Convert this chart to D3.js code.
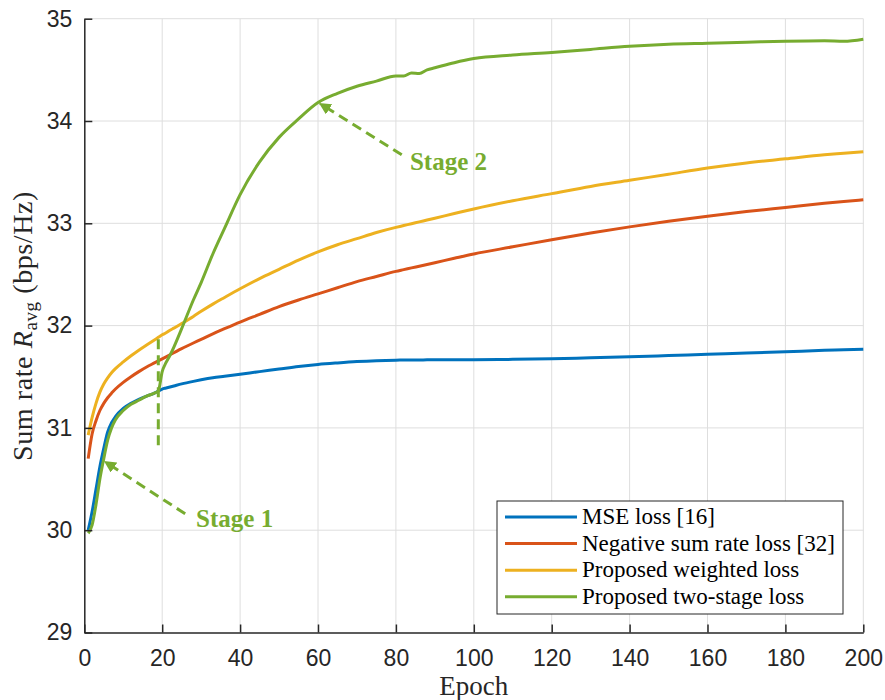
<!DOCTYPE html>
<html>
<head>
<meta charset="utf-8">
<script src="https://cdn.jsdelivr.net/npm/d3@7"></script>
<style>
  body { margin: 0; background: #fff; }
  svg { display: block; }
  .tick text { font-family: "Liberation Sans", Arial, sans-serif; font-size: 22px; fill: #262626; }
  .serif { font-family: "Liberation Serif", "Times New Roman", serif; }
</style>
</head>
<body>
<div id="chart"></div>
<script>
var epochs = [1, 2, 3, 4, 5, 6, 7, 8, 10, 12, 14, 16, 18, 19, 20, 21, 22, 23, 25, 28,
  30, 33, 36, 40, 45, 50, 55, 60, 65, 70, 75, 80, 82, 84, 86, 88, 90, 95, 100, 110,
  120, 130, 140, 150, 160, 170, 180, 190, 195, 200];

var mseLoss = [30.00, 30.18, 30.40, 30.62, 30.80, 30.96, 31.05, 31.11, 31.19, 31.24,
  31.28, 31.31, 31.34, 31.36, 31.38, 31.39, 31.40, 31.41, 31.43, 31.455,
  31.47, 31.49, 31.505, 31.525, 31.55, 31.575, 31.60, 31.62, 31.635, 31.648,
  31.657, 31.662, 31.663, 31.664, 31.664, 31.665, 31.665, 31.666, 31.667, 31.67,
  31.675, 31.685, 31.695, 31.707, 31.72, 31.732, 31.745, 31.758, 31.764, 31.77];

var negRateLoss = [30.70, 30.94, 31.07, 31.17, 31.24, 31.295, 31.34, 31.38, 31.445, 31.50,
  31.55, 31.595, 31.635, 31.655, 31.675, 31.695, 31.715, 31.735, 31.775, 31.83,
  31.865, 31.92, 31.97, 32.035, 32.11, 32.185, 32.25, 32.31, 32.37, 32.43,
  32.48, 32.53, 32.547, 32.564, 32.581, 32.598, 32.615, 32.658, 32.70, 32.77,
  32.84, 32.905, 32.965, 33.02, 33.07, 33.115, 33.155, 33.195, 33.213, 33.23];

var weightedLoss = [30.93, 31.10, 31.24, 31.35, 31.43, 31.49, 31.54, 31.58, 31.645, 31.705,
  31.76, 31.81, 31.86, 31.885, 31.91, 31.93, 31.955, 31.975, 32.02, 32.09,
  32.14, 32.21, 32.275, 32.36, 32.46, 32.55, 32.64, 32.72, 32.79, 32.85,
  32.91, 32.96, 32.978, 32.996, 33.014, 33.032, 33.05, 33.095, 33.14, 33.22,
  33.29, 33.36, 33.42, 33.48, 33.54, 33.59, 33.63, 33.67, 33.685, 33.70];

var twoStageLoss = [29.97, 30.05, 30.25, 30.50, 30.70, 30.88, 31.00, 31.08, 31.17, 31.23,
  31.27, 31.31, 31.34, 31.36, 31.55, 31.64, 31.71, 31.79, 31.97, 32.25,
  32.42, 32.70, 32.95, 33.28, 33.60, 33.84, 34.02, 34.18, 34.27, 34.34,
  34.39, 34.44, 34.44, 34.47, 34.465, 34.50, 34.52, 34.57, 34.61, 34.645,
  34.67, 34.70, 34.73, 34.75, 34.76, 34.77, 34.78, 34.785, 34.78, 34.80];

var seriesNames = ['MSE loss [16]', 'Negative sum rate loss [32]',
  'Proposed weighted loss', 'Proposed two-stage loss'];
var seriesColors = ['#0072BD', '#D95319', '#EDB120', '#77AC30'];

var xTicks = [0, 20, 40, 60, 80, 100, 120, 140, 160, 180, 200];
var yTicks = [29, 30, 31, 32, 33, 34, 35];

// annotations in data units: [from epoch, from value, to epoch, to value]
var stageArrows = [[25.9, 30.16, 5.3, 30.67], [81.5, 33.67, 60.5, 34.17]];
var stageLabels = [['Stage 1', 28.7, 30.03], ['Stage 2', 83.6, 33.52]];
var stageSplit = [19, 30.83, 31.88];

var width = 885, height = 700;
var svg = d3.select('#chart').append('svg')
  .attr('width', width).attr('height', height);

var x = d3.scaleLinear().domain([0, 200]).range([84.3, 863.3]);
var y = d3.scaleLinear().domain([29, 35]).range([632.5, 18.7]);

// grid
var grid = svg.append('g').attr('stroke', '#dedede').attr('stroke-width', 1);
grid.selectAll('line.gx').data(xTicks.slice(1)).enter().append('line')
  .attr('x1', function (d) { return x(d); }).attr('x2', function (d) { return x(d); })
  .attr('y1', y(29)).attr('y2', y(35));
grid.selectAll('line.gy').data(yTicks.slice(1)).enter().append('line')
  .attr('x1', x(0)).attr('x2', x(200))
  .attr('y1', function (d) { return y(d); }).attr('y2', function (d) { return y(d); });

// series
var series = [mseLoss, negRateLoss, weightedLoss, twoStageLoss];
var line = d3.line()
  .x(function (d) { return x(d[0]); })
  .y(function (d) { return y(d[1]); })
  .curve(d3.curveMonotoneX);

series.forEach(function (vals, i) {
  svg.append('path')
    .datum(epochs.map(function (e, k) { return [e, vals[k]]; }))
    .attr('fill', 'none')
    .attr('stroke', seriesColors[i])
    .attr('stroke-width', 3)
    .attr('stroke-linejoin', 'round')
    .attr('d', line);
});

// axes (ticks point inwards)
var xAxis = svg.append('g').attr('transform', 'translate(0,' + y(29) + ')')
  .call(d3.axisBottom(x).tickValues(xTicks).tickFormat(d3.format('d'))
    .tickSize(-8).tickPadding(17).tickSizeOuter(0));
var yAxis = svg.append('g').attr('transform', 'translate(' + x(0) + ',0)')
  .call(d3.axisLeft(y).tickValues(yTicks).tickFormat(d3.format('d'))
    .tickSize(-8).tickPadding(12).tickSizeOuter(0));
[xAxis, yAxis].forEach(function (ax) {
  ax.select('.domain').attr('stroke', '#262626').attr('stroke-width', 1.5);
  ax.selectAll('.tick line').attr('stroke', '#262626').attr('stroke-width', 1.5);
  ax.selectAll('.tick text').style('font-size', '23px');
});

// axis titles
svg.append('text').attr('class', 'serif')
  .attr('x', (x(0) + x(200)) / 2).attr('y', 695)
  .attr('text-anchor', 'middle').attr('font-size', 27).attr('fill', '#262626')
  .text('Epoch');

var ylab = svg.append('text').attr('class', 'serif')
  .attr('transform', 'translate(32,326) rotate(-90)')
  .attr('text-anchor', 'middle').attr('font-size', 28).attr('fill', '#262626')
  .style('letter-spacing', '0.6px');
ylab.append('tspan').text('Sum rate ');
ylab.append('tspan').attr('font-style', 'italic').text('R');
ylab.append('tspan').attr('font-size', 19).attr('dy', 5).text('avg');
ylab.append('tspan').attr('dy', -5).text(' (bps/Hz)');

// stage annotations
var green = seriesColors[3];
svg.append('defs').append('marker')
  .attr('id', 'head').attr('viewBox', '0 0 10 10')
  .attr('refX', 9).attr('refY', 5)
  .attr('markerUnits', 'userSpaceOnUse')
  .attr('markerWidth', 12).attr('markerHeight', 12)
  .attr('orient', 'auto')
  .append('path').attr('d', 'M0,0 L10,5 L0,10 z').attr('fill', green);

svg.selectAll('line.arrow').data(stageArrows).enter().append('line')
  .attr('x1', function (d) { return x(d[0]); }).attr('y1', function (d) { return y(d[1]); })
  .attr('x2', function (d) { return x(d[2]); }).attr('y2', function (d) { return y(d[3]); })
  .attr('stroke', green).attr('stroke-width', 3)
  .attr('stroke-dasharray', '10,6')
  .attr('marker-end', 'url(#head)');

svg.append('line')
  .attr('x1', x(stageSplit[0])).attr('x2', x(stageSplit[0]))
  .attr('y1', y(stageSplit[1])).attr('y2', y(stageSplit[2]))
  .attr('stroke', green).attr('stroke-width', 3)
  .attr('stroke-dasharray', '10,6');

svg.selectAll('text.stage').data(stageLabels).enter().append('text')
  .attr('class', 'serif')
  .attr('x', function (d) { return x(d[1]); }).attr('y', function (d) { return y(d[2]); })
  .attr('font-size', 25).attr('font-weight', 'bold').attr('fill', green)
  .text(function (d) { return d[0]; });

// legend
var lg = svg.append('g').attr('transform', 'translate(497,501)');
lg.append('rect').attr('width', 346).attr('height', 113)
  .attr('fill', '#fff').attr('stroke', '#262626').attr('stroke-width', 1);
seriesNames.forEach(function (name, i) {
  var cy = 16 + i * 26.6;
  lg.append('line').attr('x1', 8).attr('x2', 80).attr('y1', cy).attr('y2', cy)
    .attr('stroke', seriesColors[i]).attr('stroke-width', 3);
  lg.append('text').attr('class', 'serif')
    .attr('x', 85).attr('y', cy + 7)
    .attr('font-size', 23).attr('fill', '#000')
    .text(name);
});
</script>
</body>
</html>
